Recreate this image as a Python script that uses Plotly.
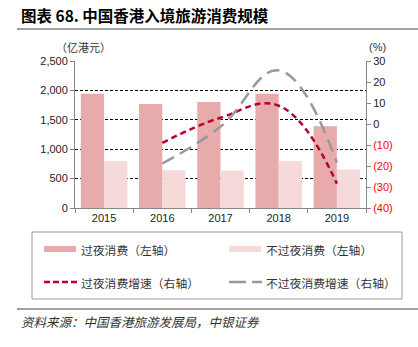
import plotly.graph_objects as go

# Hong Kong inbound tourism spending (HK$100m) and growth rates (%)
years = ["2015", "2016", "2017", "2018", "2019"]
overnight_spend = [1943, 1767, 1801, 1943, 1392]
sameday_spend = [801, 642, 637, 801, 654]
growth_years = ["2016", "2017", "2018", "2019"]
overnight_growth = [-9.0, 3.0, 8.7, -28.4]
sameday_growth = [-18.8, -1.3, 25.5, -18.3]

left_ticks = [0, 500, 1000, 1500, 2000, 2500]
right_ticks = [-40, -30, -20, -10, 0, 10, 20, 30]

W, H = 418, 347
L, R, T, B = 75, 366, 61, 208  # plot area in pixels

C_OVER = "#E8ABAC"
C_SAME = "#F6DADA"
C_RED = "#B8002A"
C_GRAY = "#999999"
CJK = "Noto Sans CJK SC"
LAT = "Liberation Sans, Arial"


def px(x):
    return (x - L) / (R - L)


def py(y):
    return (B - y) / (B - T)


def fmt_right(v):
    if v < 0:
        return f"<span style='color:#FF0000'>({abs(v)})</span>"
    return str(v)


fig = go.Figure()
fig.add_trace(go.Bar(x=years, y=overnight_spend, marker_color=C_OVER,
                     marker_line_width=0, name="过夜消费（左轴）"))
fig.add_trace(go.Bar(x=years, y=sameday_spend, marker_color=C_SAME,
                     marker_line_width=0, name="不过夜消费（左轴）"))
fig.add_trace(go.Scatter(x=growth_years, y=overnight_growth, yaxis="y2", mode="lines",
                         line=dict(color=C_RED, width=2.5, dash="6px,4px",
                                   shape="spline", smoothing=1.2),
                         name="过夜消费增速（右轴）"))
fig.add_trace(go.Scatter(x=growth_years, y=sameday_growth, yaxis="y2", mode="lines",
                         line=dict(color=C_GRAY, width=2.5, dash="13px,7px",
                                   shape="spline", smoothing=1.2),
                         name="不过夜消费增速（右轴）"))

shapes = []
annotations = []

# title and rules
annotations.append(dict(text="<b>图表 68. 中国香港入境旅游消费规模</b>", x=px(19), y=py(15),
                        xref="paper", yref="paper", xanchor="left", yanchor="middle",
                        showarrow=False, font=dict(family=CJK, size=15.5, color="#000")))
shapes.append(dict(type="line", xref="paper", yref="paper", x0=px(17), x1=px(418),
                   y0=py(29), y1=py(29), line=dict(color="#444", width=1.2)))
shapes.append(dict(type="line", xref="paper", yref="paper", x0=px(17), x1=px(418),
                   y0=py(309), y1=py(309), line=dict(color="#444", width=1.2)))
annotations.append(dict(text="<i>资料来源：中国香港旅游发展局，中银证券</i>", x=px(19), y=py(321),
                        xref="paper", yref="paper", xanchor="left", yanchor="middle",
                        showarrow=False, font=dict(family=CJK, size=12.5, color="#333")))

# axis units
annotations.append(dict(text="（亿港元）", x=px(83), y=py(47), xref="paper", yref="paper",
                        xanchor="center", yanchor="middle", showarrow=False,
                        font=dict(family=CJK, size=11, color="#333")))
annotations.append(dict(text="(%)", x=px(377), y=py(47), xref="paper", yref="paper",
                        xanchor="center", yanchor="middle", showarrow=False,
                        font=dict(family=LAT, size=11, color="#333")))

# legend box
shapes.append(dict(type="rect", xref="paper", yref="paper", x0=px(32), x1=px(402),
                   y0=py(232), y1=py(299), line=dict(color="#999", width=1)))
items = [
    ("bar", C_OVER, "过夜消费（左轴）", 44, 249),
    ("bar", C_SAME, "不过夜消费（左轴）", 229, 249),
    ("red", C_RED, "过夜消费增速（右轴）", 44, 282),
    ("gray", C_GRAY, "不过夜消费增速（右轴）", 229, 282),
]
for kind, col, label, x0, yc in items:
    if kind == "bar":
        shapes.append(dict(type="rect", xref="paper", yref="paper", x0=px(x0), x1=px(x0 + 32),
                           y0=py(yc - 3), y1=py(yc + 3), line=dict(width=0), fillcolor=col))
    elif kind == "red":
        shapes.append(dict(type="line", xref="paper", yref="paper", x0=px(x0), x1=px(x0 + 33),
                           y0=py(yc), y1=py(yc), line=dict(color=col, width=2.5, dash="6px,3px")))
    else:
        shapes.append(dict(type="line", xref="paper", yref="paper", x0=px(x0), x1=px(x0 + 33),
                           y0=py(yc), y1=py(yc), line=dict(color=col, width=2.5, dash="17px,6px")))
    annotations.append(dict(text=label, x=px(x0 + 35), y=py(yc), xref="paper", yref="paper",
                            xanchor="left", yanchor="middle", showarrow=False,
                            font=dict(family=CJK, size=11.8, color="#333")))

fig.update_layout(
    width=W, height=H,
    margin=dict(l=L, r=W - R, t=T, b=H - B, pad=0),
    paper_bgcolor="white", plot_bgcolor="white",
    showlegend=False,
    barmode="group", bargap=0.2, bargroupgap=0,
    font=dict(family=LAT, size=11, color="#222"),
    xaxis=dict(type="category", categoryorder="array", categoryarray=years,
               range=[-0.5, 4.5], showline=True, linecolor="#888", linewidth=1,
               ticks="outside", tickson="boundaries", ticklen=4, tickcolor="#888",
               showgrid=False, tickfont=dict(family=LAT, size=11, color="#222")),
    yaxis=dict(range=[0, 2500], tickvals=left_ticks, tickformat=",",
               showline=True, linecolor="#888", linewidth=1,
               ticks="outside", ticklen=4, tickcolor="#888",
               showgrid=True, gridcolor="#000", gridwidth=1, griddash="3px,2px",
               zeroline=False, tickfont=dict(family=LAT, size=11, color="#222")),
    yaxis2=dict(range=[-40, 30], overlaying="y", side="right",
                tickvals=right_ticks, ticktext=[fmt_right(v) for v in right_ticks],
                showline=True, linecolor="#888", linewidth=1,
                ticks="outside", ticklen=4, tickcolor="#888",
                showgrid=False, zeroline=False,
                tickfont=dict(family=LAT, size=11, color="#222")),
    shapes=shapes, annotations=annotations,
)

fig.write_html("out.html")
